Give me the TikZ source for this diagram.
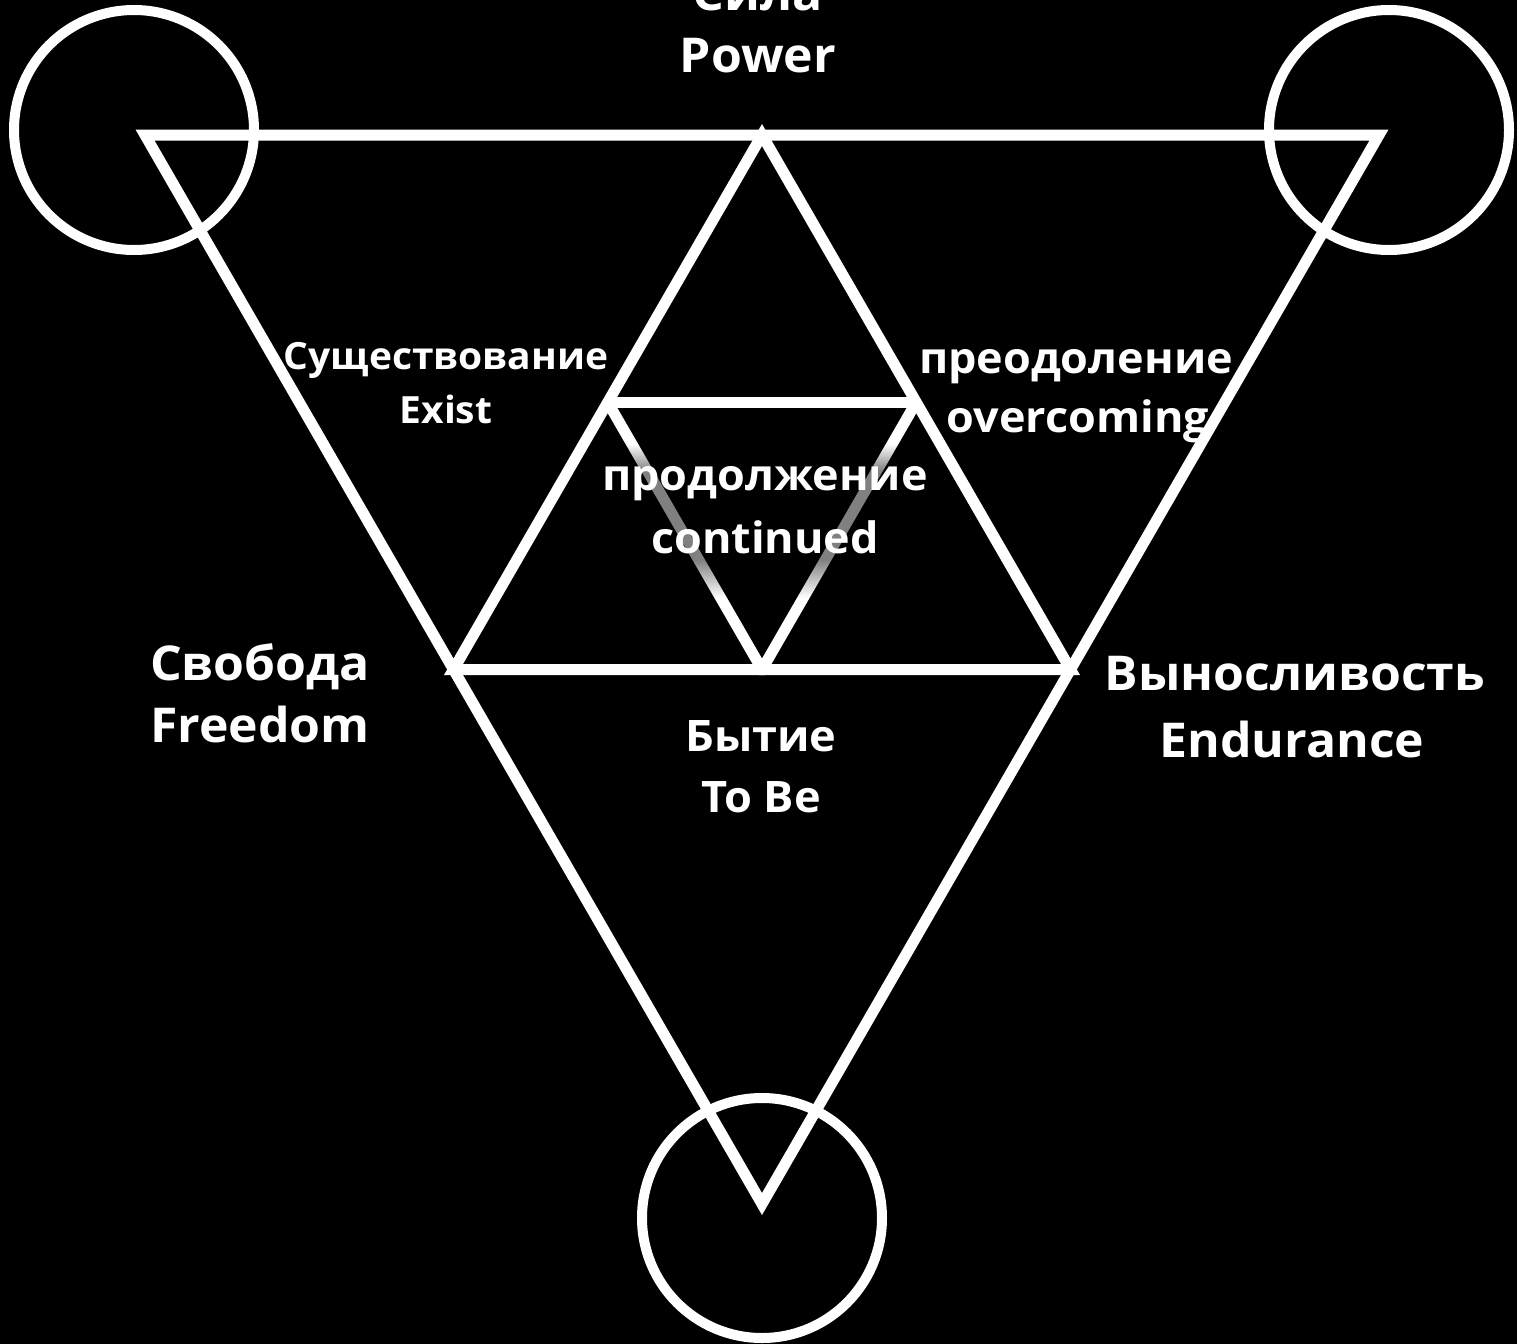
\documentclass[tikz,border=0pt]{standalone}
\usepackage{fontspec}
\setmainfont{Open Sans}[FakeStretch=1.04]
\usetikzlibrary{calc}
\pgfdeclareverticalshading{fadeline}{100bp}{color(0bp)=(white); color(39bp)=(white); color(46bp)=(white!50!black); color(62bp)=(white!50!black); color(67bp)=(white); color(100bp)=(white)}
\begin{document}
\begin{tikzpicture}[x=0.5pt,y=-0.5pt,
  ln/.style={draw=white, line width=5.5pt, line join=miter},
  ring/.style={draw=white, line width=5pt},
  biglab/.style={text=white, font=\bfseries\fontsize{24}{28}\selectfont, anchor=base, inner sep=0pt},
  centlab/.style={text=white, font=\bfseries\fontsize{21.7}{26}\selectfont, anchor=base, inner sep=0pt},
  midlab/.style={text=white, font=\bfseries\fontsize{21.6}{26}\selectfont, anchor=base, inner sep=0pt},
  smalllab/.style={text=white, font=\bfseries\fontsize{18.75}{22}\selectfont, anchor=base, inner sep=0pt}]
\fill[black] (0,0) rectangle (1517,1344);
\useasboundingbox (0,0) rectangle (1517,1344);
% vertices
\coordinate (TL) at (145,135);
\coordinate (TR) at (1379,135);
\coordinate (B) at (762,1204);
\coordinate (MT) at ($(TL)!0.5!(TR)$);
\coordinate (ML) at ($(TL)!0.5!(B)$);
\coordinate (MR) at ($(TR)!0.5!(B)$);
\coordinate (QL) at ($(MT)!0.5!(ML)$);
\coordinate (QR) at ($(MT)!0.5!(MR)$);
% circles
\coordinate (CTL) at (134,130);
\coordinate (CTR) at (1389,130);
\coordinate (CB) at (762,1218);
\draw[ring] (CTL) circle[radius=60pt];
\draw[ring] (CTR) circle[radius=60pt];
\draw[ring] (CB) circle[radius=60pt];
% shaded inner inverted triangle sides
\shade[shading=fadeline] (603,405) -- (758.9,675) -- (765.1,675) -- (921,405) -- (911.5,399.5) -- (762,658.5) -- (612.5,399.5) -- cycle;
% triangles
\draw[ln] (TL) -- (TR) -- (B) -- cycle;
\draw[ln] (MT) -- (MR) -- (ML) -- cycle;
\draw[ln] (QL) -- (QR);
% labels
\node[biglab] (sila) at (758,10) {Сила};
\node[biglab] (power) at (758,72) {Power};
\node[smalllab] (sush) at (446,369) {Существование};
\node[smalllab] (exist) at (446,423) {Exist};
\node[midlab] (preod) at (1076,373) {преодоление};
\node[midlab] (overc) at (1078,432) {overcoming};
\node[midlab] (prod) at (765,490) {продолжение};
\node[midlab] (cont) at (765,553) {continued};
\node[biglab] (svob) at (260,680) {Свобода};
\node[biglab] (free) at (260,742) {Freedom};
\node[biglab] (vyn) at (1295,690) {Выносливость};
\node[biglab] (endu) at (1292,757) {Endurance};
\node[centlab] (byt) at (761,751) {Бытие};
\node[centlab] (tobe) at (761,812) {To Be};
\end{tikzpicture}
\end{document}
